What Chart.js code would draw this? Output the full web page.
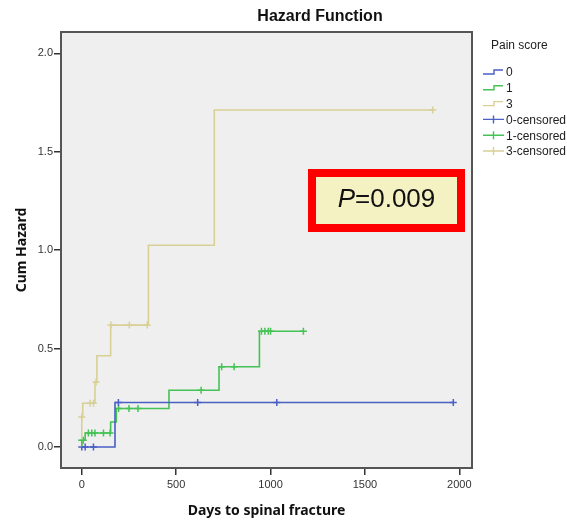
<!DOCTYPE html>
<html>
<head>
<meta charset="utf-8">
<script src="https://cdn.jsdelivr.net/npm/chart.js@4"></script>
<style>
  html, body { margin: 0; padding: 0; background: #fff; }
  #wrap { width: 567px; height: 520px; }
</style>
</head>
<body>
<div id="wrap"><canvas id="chart" width="567" height="520"></canvas></div>
<script>
// cumulative hazard step curves
const score0Days = [0, 176, 1968];
const score0Hazard = [0, 0.226, 0.226];
const score1Days = [0, 0, 18, 153, 183, 462, 727, 941, 1174];
const score1Hazard = [0, 0.034, 0.071, 0.127, 0.195, 0.288, 0.407, 0.588, 0.588];
const score3Days = [0, 0, 5, 70, 80, 153, 353, 702, 1859];
const score3Hazard = [0, 0.152, 0.222, 0.33, 0.463, 0.619, 1.025, 1.712, 1.712];

// censored observations
const cens0Days = [0, 18, 62, 194, 614, 1033, 1968];
const cens0Hazard = [0, 0, 0, 0.226, 0.226, 0.226, 0.226];
const cens1Days = [0, 8, 35, 53, 70, 115, 150, 195, 250, 298, 632, 741, 807, 952, 970, 988, 1000, 1174];
const cens1Hazard = [0.034, 0.034, 0.071, 0.071, 0.071, 0.071, 0.071, 0.195, 0.195, 0.195, 0.288, 0.407, 0.407, 0.588, 0.588, 0.588, 0.588, 0.588];
const cens3Days = [0, 44, 62, 76, 155, 252, 347, 1859];
const cens3Hazard = [0.152, 0.222, 0.222, 0.33, 0.619, 0.619, 0.619, 1.712];

const groupLabels = ['0', '1', '3'];
const censLabels = ['0-censored', '1-censored', '3-censored'];
const colors = ['#4b5fc4', '#45c255', '#d9d096'];

const xTickValues = [0, 500, 1000, 1500, 2000];
const yTickValues = [0, 0.5, 1.0, 1.5, 2.0];

const pValueText = '0.009';

const toPoints = (xs, ys) => xs.map((x, i) => ({x: x, y: ys[i]}));

const lineSets = [[score0Days, score0Hazard], [score1Days, score1Hazard], [score3Days, score3Hazard]];
const censSets = [[cens0Days, cens0Hazard], [cens1Days, cens1Hazard], [cens3Days, cens3Hazard]];

const datasets = [];
lineSets.forEach((s, i) => {
  datasets.push({
    label: groupLabels[i],
    data: toPoints(s[0], s[1]),
    stepped: true,
    showLine: true,
    borderColor: colors[i],
    borderWidth: 1.6,
    pointRadius: 0,
    fill: false
  });
});
censSets.forEach((s, i) => {
  datasets.push({
    label: censLabels[i],
    data: toPoints(s[0], s[1]),
    showLine: false,
    pointStyle: 'cross',
    pointRadius: 3.5,
    pointBorderWidth: 1.5,
    borderColor: colors[i],
    backgroundColor: colors[i]
  });
});

const frame = {
  id: 'frame',
  beforeDraw(chart) {
    const {ctx, chartArea: a} = chart;
    ctx.save();
    ctx.fillStyle = '#efefef';
    ctx.fillRect(a.left, a.top, a.right - a.left, a.bottom - a.top);
    ctx.restore();
  },
  afterDraw(chart) {
    const {ctx, chartArea: a} = chart;
    ctx.save();
    ctx.strokeStyle = '#555';
    ctx.lineWidth = 2;
    ctx.strokeRect(a.left, a.top, a.right - a.left, a.bottom - a.top);

    // title
    ctx.fillStyle = '#111';
    ctx.font = 'bold 16px "Liberation Sans", Arial, sans-serif';
    ctx.textAlign = 'center';
    ctx.textBaseline = 'middle';
    ctx.fillText('Hazard Function', 320, 17);

    // legend
    const lx = 483, tx = 506;
    ctx.textAlign = 'left';
    ctx.font = '12px "Liberation Sans", Arial, sans-serif';
    ctx.fillStyle = '#222';
    ctx.fillText('Pain score', 491, 46);
    chart.data.datasets.forEach((ds, i) => {
      const y = 72 + i * 15.8;
      ctx.strokeStyle = ds.borderColor;
      ctx.lineWidth = 1.4;
      ctx.beginPath();
      if (i < 3) {
        ctx.moveTo(lx, y + 2);
        ctx.lineTo(lx + 11, y + 2);
        ctx.lineTo(lx + 11, y - 2);
        ctx.lineTo(lx + 20, y - 2);
      } else {
        ctx.moveTo(lx, y);
        ctx.lineTo(lx + 21, y);
        ctx.moveTo(lx + 10.5, y - 4);
        ctx.lineTo(lx + 10.5, y + 4);
      }
      ctx.stroke();
      ctx.fillStyle = '#222';
      ctx.fillText(ds.label, tx, y + 1);
    });

    // p value box
    ctx.fillStyle = '#f4f2c3';
    ctx.fillRect(312, 173, 149, 55);
    ctx.strokeStyle = '#ff0000';
    ctx.lineWidth = 8;
    ctx.strokeRect(312, 173, 149, 55);
    ctx.fillStyle = '#111';
    ctx.font = 'italic 26px "Liberation Sans", Arial, sans-serif';
    ctx.textBaseline = 'middle';
    const pw = ctx.measureText('P').width;
    ctx.font = '26px "Liberation Sans", Arial, sans-serif';
    const rest = '=' + pValueText;
    const rw = ctx.measureText(rest).width;
    const sx = 386.5 - (pw + rw) / 2;
    ctx.font = 'italic 26px "Liberation Sans", Arial, sans-serif';
    ctx.fillText('P', sx, 200);
    ctx.font = '26px "Liberation Sans", Arial, sans-serif';
    ctx.fillText(rest, sx + pw, 200);
    ctx.restore();
  }
};

const tickFont = {family: '"Liberation Sans", Arial, sans-serif', size: 11};
const titleFont = {family: '"Noto Sans", "DejaVu Sans", sans-serif', size: 14, weight: 'bold'};

new Chart(document.getElementById('chart'), {
  type: 'scatter',
  data: {datasets: datasets},
  options: {
    responsive: false,
    animation: false,
    layout: {padding: {top: 32, right: 95, left: 0, bottom: 0}},
    plugins: {
      legend: {display: false},
      tooltip: {enabled: false},
      title: {display: false}
    },
    scales: {
      x: {
        type: 'linear',
        min: -110,
        max: 2067,
        afterFit: (s) => { s.height = 52; },
        afterBuildTicks: (s) => { s.ticks = xTickValues.map((v) => ({value: v})); },
        border: {display: false},
        grid: {drawOnChartArea: false, drawTicks: true, tickLength: 7, color: '#333', lineWidth: 1.5},
        ticks: {padding: 3, color: '#333', font: tickFont, maxRotation: 0,
          callback: (v) => String(v)},
        title: {display: true, text: 'Days to spinal fracture', color: '#111', font: titleFont,
          padding: {top: 0, bottom: 1}}
      },
      y: {
        type: 'linear',
        min: -0.107,
        max: 2.108,
        afterFit: (s) => { s.width = 61; },
        afterBuildTicks: (s) => { s.ticks = yTickValues.map((v) => ({value: v})); },
        border: {display: false},
        grid: {drawOnChartArea: false, drawTicks: true, tickLength: 7, color: '#333', lineWidth: 1.5},
        ticks: {padding: 1, color: '#333', font: tickFont,
          callback: (v) => v.toFixed(1)},
        title: {display: true, text: 'Cum Hazard', color: '#111', font: titleFont,
          padding: {top: 14, bottom: 0}}
      }
    }
  },
  plugins: [frame]
});
</script>
</body>
</html>
